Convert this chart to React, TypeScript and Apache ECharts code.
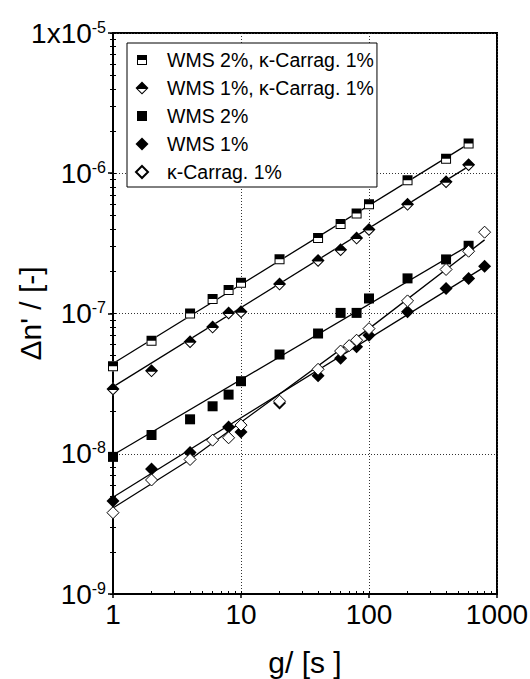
import React, { useEffect, useRef } from "react";
import * as echarts from "echarts";

const FONT = "'Liberation Sans', Arial, Helvetica, sans-serif";

// ---------- data (g in s, Δn' dimensionless) ----------
const nameA = "WMS 2%, κ-Carrag. 1%";
const gA = [1, 2, 4, 6, 8, 10, 20, 40, 60, 80, 100, 200, 400, 600];
const dnA = [4.2e-8, 6.4e-8, 1.0e-7, 1.27e-7, 1.47e-7, 1.66e-7, 2.44e-7, 3.45e-7, 4.35e-7, 5.17e-7, 6.0e-7, 8.9e-7, 1.27e-6, 1.63e-6];

const nameB = "WMS 1%, κ-Carrag. 1%";
const gB = [1, 2, 4, 6, 8, 10, 20, 40, 60, 80, 100, 200, 400, 600];
const dnB = [2.9e-8, 3.9e-8, 6.3e-8, 8.0e-8, 1.01e-7, 1.03e-7, 1.62e-7, 2.39e-7, 2.85e-7, 3.45e-7, 3.97e-7, 6.0e-7, 8.7e-7, 1.15e-6];

const nameC = "WMS 2%";
const gC = [1, 2, 4, 6, 8, 10, 20, 40, 60, 80, 100, 200, 400, 600];
const dnC = [9.5e-9, 1.36e-8, 1.76e-8, 2.18e-8, 2.64e-8, 3.29e-8, 5.1e-8, 7.2e-8, 1.01e-7, 1.01e-7, 1.28e-7, 1.78e-7, 2.43e-7, 3.04e-7];

const nameD = "WMS 1%";
const gD = [1, 2, 4, 8, 10, 20, 40, 60, 80, 100, 200, 400, 600, 800];
const dnD = [4.6e-9, 7.8e-9, 1.02e-8, 1.55e-8, 1.43e-8, 2.3e-8, 3.6e-8, 4.8e-8, 5.8e-8, 7.0e-8, 1.03e-7, 1.51e-7, 1.78e-7, 2.17e-7];

const nameE = "κ-Carrag. 1%";
const gE = [1, 2, 4, 6, 8, 10, 20, 40, 60, 70, 80, 100, 200, 400, 600, 800];
const dnE = [3.8e-9, 6.5e-9, 9.1e-9, 1.25e-8, 1.3e-8, 1.6e-8, 2.37e-8, 4.0e-8, 5.4e-8, 5.9e-8, 6.45e-8, 7.8e-8, 1.23e-7, 2.06e-7, 2.78e-7, 3.8e-7];

// fitted curves
const fitAg = [1, 600];
const fitAdn = [4.4e-8, 1.62e-6];
const fitBg = [1, 600];
const fitBdn = [3.0e-8, 1.12e-6];
const fitCg = [1, 600];
const fitCdn = [9.8e-9, 3.05e-7];
const fitDg = [1, 800];
const fitDdn = [4.9e-9, 2.15e-7];
const fitEg = [1, 4, 100, 800];
const fitEdn = [4.1e-9, 9.1e-9, 7.8e-8, 3.35e-7];

// axes
const xTickValues = [1, 10, 100, 1000];
const xTickLabels = ["1", "10", "100", "1000"];
const yTickExps = [-9, -8, -7, -6, -5];
const yTickBases = ["10", "10", "10", "10", "1x10"];
const minorMultipliers = [2, 3, 4, 5, 6, 7, 8, 9];
const xTitle = "g/ [s ]";
const yTitle = "Δn' / [-]";

// ---------- symbols (all drawn in a 14x14 box so legend icons keep size) ----------
const SQUARE = "path://M0 0M14 14M2 2L12 2L12 12L2 12Z";
const HALF_SQUARE = "path://M0 0M14 14M2 2L12 2L12 12L2 12ZM3 7L3 11L11 11L11 7Z";
const DIAMOND = "path://M0 0M14 14M7 0.5L13.5 7L7 13.5L0.5 7Z";
const OPEN_DIAMOND = "path://M0 0M14 14M7 1L13 7L7 13L1 7Z";
const HALF_DIAMOND = "path://M0 0M14 14M7 0.5L13.5 7L7 13.5L0.5 7ZM2.914 8L7 12.086L11.086 8Z";

const zip = (xs: number[], ys: number[]) => xs.map((x, i) => [x, ys[i]]);

function logTicks(from: number, to: number, withMajor: boolean) {
  const out: number[] = [];
  for (let k = from; k < to; k++) {
    if (withMajor) out.push(k);
    minorMultipliers.forEach((m) => out.push(k + Math.log10(m)));
  }
  if (withMajor) out.push(to);
  return out;
}

export default function App() {
  const ref = useRef<HTMLDivElement>(null);

  useEffect(() => {
    if (!ref.current) return;
    const chart = echarts.init(ref.current, null, { renderer: "svg" });

    const fits = [
      [fitAg, fitAdn],
      [fitBg, fitBdn],
      [fitCg, fitCdn],
      [fitDg, fitDdn],
      [fitEg, fitEdn],
    ].map((f, i) => ({
      type: "line",
      name: "_fit" + i,
      data: zip(f[0], f[1]),
      symbol: "none",
      silent: true,
      lineStyle: { color: "#000", width: 1.3 },
      z: 2,
    }));

    const xMinorVals = logTicks(0, 3, true);
    const yMinorVals = logTicks(-9, -5, true);

    const hiddenValueAxis = (min: number, max: number, pos: string, vals: number[], inside: boolean, len: number) => ({
      type: "value",
      min,
      max,
      position: pos,
      axisLine: { show: false, onZero: false },
      axisLabel: { show: false },
      splitLine: { show: false },
      axisTick: {
        show: true,
        inside,
        length: len,
        customValues: vals,
        lineStyle: { color: "#000", width: 1 },
      },
    });

    const mark = (name: string, xs: number[], ys: number[], symbol: string, style: any, silent = false) => ({
      type: "scatter",
      name,
      data: zip(xs, ys),
      symbol,
      symbolSize: 14,
      silent,
      itemStyle: { opacity: 1, borderWidth: 0, ...style },
      emphasis: { disabled: true },
      z: 3,
    });

    const option: any = {
      animation: false,
      backgroundColor: "#fff",
      grid: {
        left: 113,
        right: 33,
        top: 33,
        bottom: 85,
        containLabel: false,
        outerBoundsMode: "none",
        show: true,
        borderColor: "#000",
        borderWidth: 2,
      },
      legend: {
        data: [nameA, nameB, nameC, nameD, nameE],
        orient: "vertical",
        left: 127,
        top: 43,
        itemWidth: 40,
        itemHeight: 14,
        itemGap: 8,
        padding: [7, 3, 5, 7],
        backgroundColor: "#fff",
        borderColor: "#000",
        borderWidth: 1,
        borderRadius: 0,
        selectedMode: false,
        itemStyle: { opacity: 1 },
        textStyle: { fontFamily: FONT, fontSize: 19.5, color: "#000", lineHeight: 20 },
      },
      xAxis: [
        {
          type: "log",
          logBase: 10,
          min: 1,
          max: 1000,
          position: "bottom",
          name: xTitle,
          nameLocation: "middle",
          nameGap: 53,
          nameMoveOverlap: false,
          nameTextStyle: { fontFamily: FONT, fontSize: 30, color: "#000" },
          axisLine: { onZero: false, lineStyle: { color: "#000", width: 2 } },
          axisTick: { inside: false, length: 4, lineStyle: { color: "#000", width: 1.5 } },
          axisLabel: {
            fontFamily: FONT,
            fontSize: 28,
            color: "#000",
            margin: 6,
            formatter: (v: number) => {
              const i = xTickValues.findIndex((t) => Math.abs(Math.log10(t) - Math.log10(v)) < 1e-6);
              return i >= 0 ? xTickLabels[i] : "";
            },
          },
          splitLine: { show: true, lineStyle: { color: "#333", width: 1, type: [1, 2] } },
        },
        hiddenValueAxis(0, 3, "bottom", xMinorVals, true, 3),
      ],
      yAxis: [
        {
          type: "log",
          logBase: 10,
          min: 1e-9,
          max: 1e-5,
          position: "left",
          name: yTitle,
          nameLocation: "middle",
          nameGap: 68,
          nameMoveOverlap: false,
          nameTextStyle: { fontFamily: FONT, fontSize: 30, color: "#000" },
          axisLine: { onZero: false, lineStyle: { color: "#000", width: 2 } },
          axisTick: { inside: false, length: 5, lineStyle: { color: "#000", width: 1.5 } },
          axisLabel: {
            margin: 7,
            formatter: (v: number) => {
              const e = Math.round(Math.log10(v));
              const i = yTickExps.indexOf(e);
              if (i < 0) return "";
              return "{b|" + yTickBases[i] + "}{s|" + yTickExps[i] + "}";
            },
            rich: {
              b: { fontFamily: FONT, fontSize: 28, color: "#000" },
              s: { fontFamily: FONT, fontSize: 16, color: "#000", verticalAlign: "top" },
            },
          },
          splitLine: { show: true, lineStyle: { color: "#333", width: 1, type: [1, 2] } },
        },
        hiddenValueAxis(-9, -5, "left", yMinorVals, true, 3),
        hiddenValueAxis(-9, -5, "left", yMinorVals, false, 3),
      ],
      series: [
        ...fits,
        mark("_bgA", gA, dnA, SQUARE, { color: "#fff" }, true),
        mark(nameA, gA, dnA, HALF_SQUARE, { color: "#000" }),
        mark("_bgB", gB, dnB, DIAMOND, { color: "#fff" }, true),
        mark(nameB, gB, dnB, HALF_DIAMOND, { color: "#000" }),
        mark(nameC, gC, dnC, SQUARE, { color: "#000" }),
        mark(nameD, gD, dnD, DIAMOND, { color: "#000" }),
        mark(nameE, gE, dnE, OPEN_DIAMOND, { color: "#fff", borderColor: "#000", borderWidth: 1 }),
      ],
    };

    chart.setOption(option);
    return () => chart.dispose();
  }, []);

  return (
    <div
      ref={ref}
      style={{ position: "fixed", left: 0, top: 0, width: 530, height: 679, background: "#fff" }}
    />
  );
}
